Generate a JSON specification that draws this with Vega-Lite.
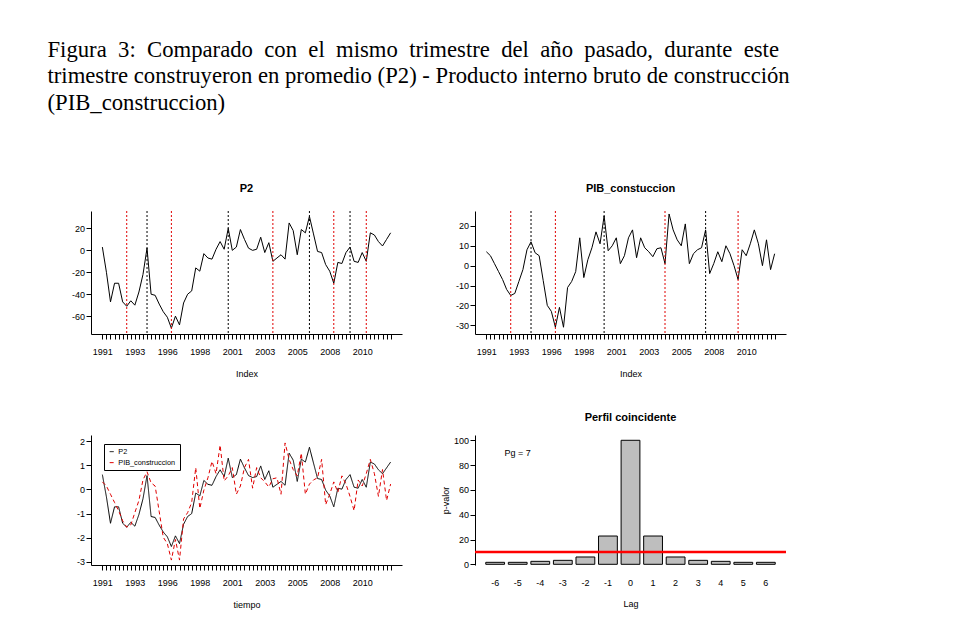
{
  "$schema": "https://vega.github.io/schema/vega-lite/v6.json",
  "background": "white",
  "padding": {"left": 47, "top": 38, "right": 5, "bottom": 5},
  "title": {
    "text": [
      "Figura\u00a0 3:\u00a0 Comparado\u00a0 con\u00a0 el\u00a0 mismo\u00a0 trimestre\u00a0 del\u00a0 año\u00a0 pasado,\u00a0 durante\u00a0 este",
      "trimestre construyeron en promedio (P2) - Producto interno bruto de construcción",
      "(PIB_construccion)"
    ],
    "anchor": "start",
    "font": "Liberation Serif",
    "fontSize": 22.7,
    "fontWeight": "normal",
    "lineHeight": 26.5,
    "color": "black",
    "offset": 68,
    "dx": -24
  },
  "config": {
    "view": {"stroke": null},
    "font": "Liberation Sans",
    "axis": {
      "grid": false,
      "labelFont": "Liberation Sans",
      "titleFont": "Liberation Sans",
      "labelFontSize": 9,
      "titleFontSize": 9,
      "titleFontWeight": "normal",
      "labelColor": "black",
      "titleColor": "black",
      "domainColor": "black",
      "tickColor": "black",
      "tickSize": 5,
      "labelOverlap": false
    },
    "title": {"font": "Liberation Sans", "fontSize": 11, "fontWeight": "bold", "color": "black"}
  },
  "resolve": {
    "scale": {"color": "independent", "strokeDash": "independent"},
    "legend": {"color": "independent", "strokeDash": "independent"}
  },
  "datasets": {
    "ts": [
      {"i":1,"p2_raw":3,"pib_raw":7,"P2":0.61,"PIB_construccion":0.31},
      {"i":2,"p2_raw":-20,"pib_raw":5,"P2":-0.31,"PIB_construccion":0.14},
      {"i":3,"p2_raw":-47,"pib_raw":1,"P2":-1.40,"PIB_construccion":-0.20},
      {"i":4,"p2_raw":-30,"pib_raw":-3,"P2":-0.72,"PIB_construccion":-0.54},
      {"i":5,"p2_raw":-30,"pib_raw":-7,"P2":-0.72,"PIB_construccion":-0.88},
      {"i":6,"p2_raw":-47,"pib_raw":-12,"P2":-1.40,"PIB_construccion":-1.30},
      {"i":7,"p2_raw":-51,"pib_raw":-15,"P2":-1.56,"PIB_construccion":-1.56},
      {"i":8,"p2_raw":-46,"pib_raw":-14,"P2":-1.36,"PIB_construccion":-1.47},
      {"i":9,"p2_raw":-50,"pib_raw":-8,"P2":-1.52,"PIB_construccion":-0.96},
      {"i":10,"p2_raw":-38,"pib_raw":-2,"P2":-1.04,"PIB_construccion":-0.46},
      {"i":11,"p2_raw":-22,"pib_raw":8,"P2":-0.39,"PIB_construccion":0.39},
      {"i":12,"p2_raw":2,"pib_raw":12,"P2":0.57,"PIB_construccion":0.73},
      {"i":13,"p2_raw":-40,"pib_raw":6.5,"P2":-1.12,"PIB_construccion":0.27},
      {"i":14,"p2_raw":-41,"pib_raw":5,"P2":-1.16,"PIB_construccion":0.14},
      {"i":15,"p2_raw":-49,"pib_raw":-7.5,"P2":-1.48,"PIB_construccion":-0.92},
      {"i":16,"p2_raw":-56,"pib_raw":-20,"P2":-1.76,"PIB_construccion":-1.98},
      {"i":17,"p2_raw":-61,"pib_raw":-23,"P2":-1.96,"PIB_construccion":-2.24},
      {"i":18,"p2_raw":-71,"pib_raw":-31,"P2":-2.36,"PIB_construccion":-2.92},
      {"i":19,"p2_raw":-60,"pib_raw":-21,"P2":-1.92,"PIB_construccion":-2.07},
      {"i":20,"p2_raw":-68,"pib_raw":-31,"P2":-2.24,"PIB_construccion":-2.92},
      {"i":21,"p2_raw":-48,"pib_raw":-11,"P2":-1.44,"PIB_construccion":-1.22},
      {"i":22,"p2_raw":-40,"pib_raw":-8,"P2":-1.12,"PIB_construccion":-0.96},
      {"i":23,"p2_raw":-37,"pib_raw":-3,"P2":-1.00,"PIB_construccion":-0.54},
      {"i":24,"p2_raw":-16,"pib_raw":14,"P2":-0.15,"PIB_construccion":0.90},
      {"i":25,"p2_raw":-19,"pib_raw":-6,"P2":-0.27,"PIB_construccion":-0.79},
      {"i":26,"p2_raw":-3,"pib_raw":3,"P2":0.37,"PIB_construccion":-0.03},
      {"i":27,"p2_raw":-7,"pib_raw":9,"P2":0.21,"PIB_construccion":0.48},
      {"i":28,"p2_raw":-8,"pib_raw":17,"P2":0.17,"PIB_construccion":1.16},
      {"i":29,"p2_raw":1,"pib_raw":11,"P2":0.53,"PIB_construccion":0.65},
      {"i":30,"p2_raw":8,"pib_raw":25,"P2":0.81,"PIB_construccion":1.83},
      {"i":31,"p2_raw":1,"pib_raw":7.5,"P2":0.53,"PIB_construccion":0.35},
      {"i":32,"p2_raw":20,"pib_raw":10,"P2":1.29,"PIB_construccion":0.56},
      {"i":33,"p2_raw":0,"pib_raw":14,"P2":0.49,"PIB_construccion":0.90},
      {"i":34,"p2_raw":3,"pib_raw":1,"P2":0.61,"PIB_construccion":-0.20},
      {"i":35,"p2_raw":19,"pib_raw":5,"P2":1.25,"PIB_construccion":0.14},
      {"i":36,"p2_raw":10,"pib_raw":14,"P2":0.89,"PIB_construccion":0.90},
      {"i":37,"p2_raw":2,"pib_raw":18,"P2":0.57,"PIB_construccion":1.24},
      {"i":38,"p2_raw":0,"pib_raw":4,"P2":0.49,"PIB_construccion":0.05},
      {"i":39,"p2_raw":1,"pib_raw":14,"P2":0.53,"PIB_construccion":0.90},
      {"i":40,"p2_raw":12,"pib_raw":9,"P2":0.97,"PIB_construccion":0.48},
      {"i":41,"p2_raw":-2,"pib_raw":7,"P2":0.41,"PIB_construccion":0.31},
      {"i":42,"p2_raw":7,"pib_raw":4.5,"P2":0.77,"PIB_construccion":0.10},
      {"i":43,"p2_raw":-10,"pib_raw":8.5,"P2":0.09,"PIB_construccion":0.44},
      {"i":44,"p2_raw":-7,"pib_raw":9,"P2":0.21,"PIB_construccion":0.48},
      {"i":45,"p2_raw":-4,"pib_raw":1,"P2":0.33,"PIB_construccion":-0.20},
      {"i":46,"p2_raw":-8,"pib_raw":26,"P2":0.17,"PIB_construccion":1.92},
      {"i":47,"p2_raw":25,"pib_raw":18,"P2":1.50,"PIB_construccion":1.24},
      {"i":48,"p2_raw":18,"pib_raw":13,"P2":1.21,"PIB_construccion":0.82},
      {"i":49,"p2_raw":-4,"pib_raw":10,"P2":0.33,"PIB_construccion":0.56},
      {"i":50,"p2_raw":19,"pib_raw":21,"P2":1.25,"PIB_construccion":1.50},
      {"i":51,"p2_raw":16,"pib_raw":1,"P2":1.13,"PIB_construccion":-0.20},
      {"i":52,"p2_raw":31,"pib_raw":6,"P2":1.74,"PIB_construccion":0.22},
      {"i":53,"p2_raw":15,"pib_raw":8,"P2":1.09,"PIB_construccion":0.39},
      {"i":54,"p2_raw":-1,"pib_raw":9,"P2":0.45,"PIB_construccion":0.48},
      {"i":55,"p2_raw":-2,"pib_raw":18,"P2":0.41,"PIB_construccion":1.24},
      {"i":56,"p2_raw":-13,"pib_raw":-4,"P2":-0.03,"PIB_construccion":-0.63},
      {"i":57,"p2_raw":-19,"pib_raw":1,"P2":-0.27,"PIB_construccion":-0.20},
      {"i":58,"p2_raw":-30,"pib_raw":7,"P2":-0.72,"PIB_construccion":0.31},
      {"i":59,"p2_raw":-11,"pib_raw":2,"P2":0.05,"PIB_construccion":-0.12},
      {"i":60,"p2_raw":-12,"pib_raw":10,"P2":0.01,"PIB_construccion":0.56},
      {"i":61,"p2_raw":-2,"pib_raw":6,"P2":0.41,"PIB_construccion":0.22},
      {"i":62,"p2_raw":3,"pib_raw":0,"P2":0.61,"PIB_construccion":-0.29},
      {"i":63,"p2_raw":-10,"pib_raw":-7,"P2":0.09,"PIB_construccion":-0.88},
      {"i":64,"p2_raw":-11,"pib_raw":8,"P2":0.05,"PIB_construccion":0.39},
      {"i":65,"p2_raw":-2,"pib_raw":5,"P2":0.41,"PIB_construccion":0.14},
      {"i":66,"p2_raw":-10,"pib_raw":11,"P2":0.09,"PIB_construccion":0.65},
      {"i":67,"p2_raw":16,"pib_raw":18,"P2":1.13,"PIB_construccion":1.24},
      {"i":68,"p2_raw":14,"pib_raw":11,"P2":1.05,"PIB_construccion":0.65},
      {"i":69,"p2_raw":8,"pib_raw":0,"P2":0.81,"PIB_construccion":-0.29},
      {"i":70,"p2_raw":4,"pib_raw":13,"P2":0.65,"PIB_construccion":0.82},
      {"i":71,"p2_raw":10,"pib_raw":-2,"P2":0.89,"PIB_construccion":-0.46},
      {"i":72,"p2_raw":16,"pib_raw":6,"P2":1.13,"PIB_construccion":0.22}
    ],
    "giros": [
      {"serie":"P2","tipo":"valle","i":7},
      {"serie":"P2","tipo":"pico","i":12},
      {"serie":"P2","tipo":"valle","i":18},
      {"serie":"P2","tipo":"pico","i":32},
      {"serie":"P2","tipo":"valle","i":43},
      {"serie":"P2","tipo":"pico","i":52},
      {"serie":"P2","tipo":"valle","i":58},
      {"serie":"P2","tipo":"pico","i":62},
      {"serie":"P2","tipo":"valle","i":66},
      {"serie":"PIB","tipo":"valle","i":7},
      {"serie":"PIB","tipo":"pico","i":12},
      {"serie":"PIB","tipo":"valle","i":18},
      {"serie":"PIB","tipo":"pico","i":30},
      {"serie":"PIB","tipo":"valle","i":45},
      {"serie":"PIB","tipo":"pico","i":55},
      {"serie":"PIB","tipo":"valle","i":63}
    ],
    "perfil": [
      {"lag":"-6","pvalor":1.6},
      {"lag":"-5","pvalor":1.6},
      {"lag":"-4","pvalor":2.4},
      {"lag":"-3","pvalor":3.2},
      {"lag":"-2","pvalor":5.9},
      {"lag":"-1","pvalor":22.8},
      {"lag":"0","pvalor":100},
      {"lag":"1","pvalor":22.8},
      {"lag":"2","pvalor":5.9},
      {"lag":"3","pvalor":3.2},
      {"lag":"4","pvalor":2.4},
      {"lag":"5","pvalor":1.6},
      {"lag":"6","pvalor":1.6}
    ],
    "umbral": [{"umbral": 10}],
    "nota": [{"lag": "-5", "texto": "Pg = 7"}]
  },
  "bounds": "flush",
  "columns": 2,
  "spacing": {"row": 101, "column": 73},
  "concat": [
    {
      "width": 311,
      "height": 123,
      "title": {"text": "P2", "offset": 17},
      "encoding": {
        "x": {
          "field": "i", "type": "quantitative",
          "scale": {"domain": [-1.8, 74.8], "nice": false, "zero": false},
          "axis": {
            "title": "Index",
            "values": [1,2,3,4,5,6,7,8,9,10,11,12,13,14,15,16,17,18,19,20,21,22,23,24,25,26,27,28,29,30,31,32,33,34,35,36,37,38,39,40,41,42,43,44,45,46,47,48,49,50,51,52,53,54,55,56,57,58,59,60,61,62,63,64,65,66,67,68,69,70,71,72],
            "labelExpr": "(datum.value - 1) % 8 == 0 ? ['1991','1993','1996','1998','2001','2003','2005','2008','2010'][(datum.value - 1) / 8] : ''",
            "labelOverlap": false, "labelBound": false, "labelFlush": false, "labelAngle": 0,
            "labelPadding": 8, "titlePadding": 13
          }
        }
      },
      "layer": [
        {
          "data": {"name": "ts"},
          "mark": {"type": "line", "color": "black", "strokeWidth": 1},
          "encoding": {
            "y": {
              "field": "p2_raw", "type": "quantitative",
              "scale": {"domain": [-76.3, 35.9], "nice": false, "zero": false},
              "axis": {"title": null, "values": [-60,-40,-20,0,20], "labelExpr": "'' + datum.value", "labelPadding": 1.5, "labelOverlap": false}
            }
          }
        },
        {
          "data": {"name": "giros"},
          "transform": [{"filter": "datum.serie == 'P2' && datum.tipo == 'valle'"}],
          "mark": {"type": "rule", "color": "#e00000", "strokeWidth": 1, "strokeDash": [2, 2]}
        },
        {
          "data": {"name": "giros"},
          "transform": [{"filter": "datum.serie == 'P2' && datum.tipo == 'pico'"}],
          "mark": {"type": "rule", "color": "black", "strokeWidth": 1, "strokeDash": [2, 2]}
        }
      ]
    },
    {
      "width": 311,
      "height": 123,
      "title": {"text": "PIB_constuccion", "offset": 17},
      "encoding": {
        "x": {
          "field": "i", "type": "quantitative",
          "scale": {"domain": [-1.8, 74.8], "nice": false, "zero": false},
          "axis": {
            "title": "Index",
            "values": [1,2,3,4,5,6,7,8,9,10,11,12,13,14,15,16,17,18,19,20,21,22,23,24,25,26,27,28,29,30,31,32,33,34,35,36,37,38,39,40,41,42,43,44,45,46,47,48,49,50,51,52,53,54,55,56,57,58,59,60,61,62,63,64,65,66,67,68,69,70,71,72],
            "labelExpr": "(datum.value - 1) % 8 == 0 ? ['1991','1993','1996','1998','2001','2003','2005','2008','2010'][(datum.value - 1) / 8] : ''",
            "labelOverlap": false, "labelBound": false, "labelFlush": false, "labelAngle": 0,
            "labelPadding": 8, "titlePadding": 13
          }
        }
      },
      "layer": [
        {
          "data": {"name": "ts"},
          "mark": {"type": "line", "color": "black", "strokeWidth": 1},
          "encoding": {
            "y": {
              "field": "pib_raw", "type": "quantitative",
              "scale": {"domain": [-34.4, 27.5], "nice": false, "zero": false},
              "axis": {"title": null, "values": [-30,-20,-10,0,10,20], "labelExpr": "'' + datum.value", "labelPadding": 1.5, "labelOverlap": false}
            }
          }
        },
        {
          "data": {"name": "giros"},
          "transform": [{"filter": "datum.serie == 'PIB' && datum.tipo == 'valle'"}],
          "mark": {"type": "rule", "color": "#e00000", "strokeWidth": 1, "strokeDash": [2, 2]}
        },
        {
          "data": {"name": "giros"},
          "transform": [{"filter": "datum.serie == 'PIB' && datum.tipo == 'pico'"}],
          "mark": {"type": "rule", "color": "black", "strokeWidth": 1, "strokeDash": [2, 2]}
        }
      ]
    },
    {
      "width": 311,
      "height": 130,
      "data": {"name": "ts"},
      "transform": [{"fold": ["P2", "PIB_construccion"], "as": ["serie", "z"]}],
      "mark": {"type": "line", "strokeWidth": 1},
      "encoding": {
        "x": {
          "field": "i", "type": "quantitative",
          "scale": {"domain": [-1.8, 74.8], "nice": false, "zero": false},
          "axis": {
            "title": "tiempo",
            "values": [1,2,3,4,5,6,7,8,9,10,11,12,13,14,15,16,17,18,19,20,21,22,23,24,25,26,27,28,29,30,31,32,33,34,35,36,37,38,39,40,41,42,43,44,45,46,47,48,49,50,51,52,53,54,55,56,57,58,59,60,61,62,63,64,65,66,67,68,69,70,71,72],
            "labelExpr": "(datum.value - 1) % 8 == 0 ? ['1991','1993','1996','1998','2001','2003','2005','2008','2010'][(datum.value - 1) / 8] : ''",
            "labelOverlap": false, "labelBound": false, "labelFlush": false, "labelAngle": 0,
            "labelPadding": 8, "titlePadding": 13
          }
        },
        "y": {
          "field": "z", "type": "quantitative",
          "scale": {"domain": [-3.124, 2.248], "nice": false, "zero": false},
          "axis": {"title": null, "values": [-3,-2,-1,0,1,2], "labelExpr": "'' + datum.value", "labelPadding": 1.5, "labelOverlap": false}
        },
        "color": {
          "field": "serie", "type": "nominal",
          "scale": {"domain": ["P2", "PIB_construccion"], "range": ["black", "#e00000"]},
          "legend": {"title": null, "orient": "none", "legendX": 13, "legendY": 9, "strokeColor": "black", "fillColor": "white", "padding": 4, "labelFontSize": 7.3, "labelFont": "Liberation Sans", "labelColor": "black", "symbolType": "stroke", "symbolSize": 16, "symbolStrokeWidth": 1, "rowPadding": 3, "labelOffset": 3, "cornerRadius": 0}
        },
        "strokeDash": {
          "field": "serie", "type": "nominal",
          "scale": {"domain": ["P2", "PIB_construccion"], "range": [[1, 0], [4, 3]]},
          "legend": {"title": null, "orient": "none", "legendX": 13, "legendY": 9, "strokeColor": "black", "fillColor": "white", "padding": 4, "labelFontSize": 7.3, "labelFont": "Liberation Sans", "labelColor": "black", "symbolType": "stroke", "symbolSize": 16, "symbolStrokeWidth": 1, "rowPadding": 3, "labelOffset": 3, "cornerRadius": 0}
        }
      }
    },
    {
      "width": 311,
      "height": 130,
      "title": {"text": "Perfil coincidente", "offset": 12.5},
      "layer": [
        {
          "data": {"name": "perfil"},
          "mark": {"type": "bar", "fill": "#bebebe", "stroke": "black", "strokeWidth": 1},
          "encoding": {
            "x": {
              "field": "lag", "type": "ordinal", "sort": null,
              "scale": {"domain": ["-6","-5","-4","-3","-2","-1","0","1","2","3","4","5","6"], "paddingInner": 0.1667, "paddingOuter": 0.477},
              "axis": {"title": "Lag", "labelAngle": 0, "domain": false, "ticks": false, "tickSize": 0, "labelPadding": 13, "titlePadding": 12}
            },
            "y": {
              "field": "pvalor", "type": "quantitative",
              "scale": {"domain": [-0.56, 104.27], "nice": false, "zero": false},
              "axis": {"title": "p-valor", "values": [0,20,40,60,80,100], "tickCount": 6, "labelPadding": 1.5, "titlePadding": 3, "labelOverlap": false}
            },
            "y2": {"datum": 0}
          }
        },
        {
          "data": {"name": "umbral"},
          "mark": {"type": "rule", "color": "red", "strokeWidth": 2.5},
          "encoding": {
            "y": {
              "field": "umbral", "type": "quantitative",
              "scale": {"domain": [-0.56, 104.27], "nice": false, "zero": false},
              "axis": {"title": "p-valor", "values": [0,20,40,60,80,100], "tickCount": 6, "labelPadding": 1.5, "titlePadding": 3, "labelOverlap": false}
            }
          }
        },
        {
          "data": {"name": "nota"},
          "mark": {"type": "text", "fontSize": 9, "font": "Liberation Sans", "color": "black"},
          "encoding": {
            "x": {
              "field": "lag", "type": "ordinal", "sort": null,
              "scale": {"domain": ["-6","-5","-4","-3","-2","-1","0","1","2","3","4","5","6"], "paddingInner": 0.1667, "paddingOuter": 0.477},
              "axis": {"title": "Lag", "labelAngle": 0, "domain": false, "ticks": false, "tickSize": 0, "labelPadding": 13, "titlePadding": 12}
            },
            "y": {"datum": 90},
            "text": {"field": "texto"}
          }
        }
      ]
    }
  ]
}
